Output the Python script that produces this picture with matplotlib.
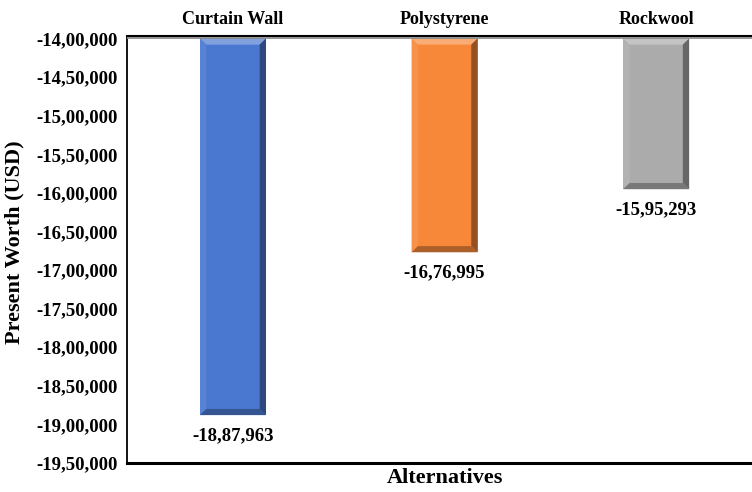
import matplotlib
matplotlib.use("Agg")
import matplotlib.pyplot as plt
from matplotlib.patches import Polygon
from matplotlib.colors import to_rgb
from matplotlib.ticker import FuncFormatter
import numpy as np

# Present worth of each cladding alternative (USD)
categories = ["Curtain Wall", "Polystyrene", "Rockwool"]
present_worth = [-1887963, -1676995, -1595293]
bar_colors = ["#4A78D0", "#F7883A", "#ABABAB"]
baseline = -1400000
y_ticks = list(range(-1950000, -1399999, 50000))

plt.rcParams["font.family"] = ["Liberation Serif", "DejaVu Serif"]
plt.rcParams["font.weight"] = "bold"


def indian_format(v, _pos=None):
    v = int(round(v))
    sign = "-" if v < 0 else ""
    s = str(abs(v))
    if len(s) > 3:
        head, tail = s[:-3], s[-3:]
        groups = []
        while len(head) > 2:
            groups.insert(0, head[-2:])
            head = head[:-2]
        if head:
            groups.insert(0, head)
        s = ",".join(groups + [tail])
    return sign + s


def shade(color, amount):
    r, g, b = to_rgb(color)
    if amount >= 0:
        return (r + (1 - r) * amount, g + (1 - g) * amount, b + (1 - b) * amount)
    a = -amount
    return (r * (1 - a), g * (1 - a), b * (1 - a))


fig = plt.figure(figsize=(7.52, 4.92), dpi=100)
ax = fig.add_axes([127 / 752, 29 / 492, 1 - 127 / 752, 427 / 492])

x = np.arange(len(categories))
width = 0.312
heights = [v - baseline for v in present_worth]
bars = ax.bar(x, heights, width=width, bottom=baseline, color=bar_colors,
              edgecolor="none", zorder=2)

ax.set_xlim(-0.501, 2.453)
ax.set_ylim(-1950000, -1396800)

# bevelled edges on each bar
bx = 0.03
by = 8000
for xi, v, c in zip(x, present_worth, bar_colors):
    l, r = xi - width / 2, xi + width / 2
    t, b = baseline, v
    faces = [
        ([(l, t), (r, t), (r - bx, t - by), (l + bx, t - by)], shade(c, 0.3)),
        ([(l, t), (l + bx, t - by), (l + bx, b + by), (l, b)], shade(c, 0.08)),
        ([(r, t), (r, b), (r - bx, b + by), (r - bx, t - by)], shade(c, -0.4)),
        ([(l, b), (l + bx, b + by), (r - bx, b + by), (r, b)], shade(c, -0.3)),
    ]
    for pts, fc in faces:
        ax.add_patch(Polygon(pts, closed=True, facecolor=fc, edgecolor="none",
                             zorder=3))
    ax.annotate(indian_format(v), (xi, v), xytext=(0, -15),
                textcoords="offset points", ha="center", va="center",
                fontsize=13.5, fontweight="bold", color="black")

# axis line at the baseline, just below the top border
ax.axhline(baseline, color="#8C8C8C", lw=1.3, zorder=4)

ax.set_yticks(y_ticks)
ax.yaxis.set_major_formatter(FuncFormatter(indian_format))
ax.tick_params(axis="y", length=0, pad=6.5, labelsize=13.5)
ax.set_xticks(x)
ax.set_xticklabels(categories)
ax.tick_params(axis="x", length=0, top=False, bottom=False,
               labeltop=True, labelbottom=False, labelsize=13, pad=6)

for side in ["left", "bottom", "top"]:
    ax.spines[side].set_color("black")
ax.spines["left"].set_linewidth(1.3)
ax.spines["bottom"].set_linewidth(2.2)
ax.spines["top"].set_linewidth(1.5)
ax.spines["right"].set_visible(False)

fig.text(14 / 752, 1 - 242 / 492, "Present Worth (USD)", rotation=90,
         ha="center", va="center", fontsize=16, fontweight="bold")
fig.text(445 / 752, 1 - 478 / 492, "Alternatives", ha="center", va="center",
         fontsize=16, fontweight="bold")

fig.savefig("out.png", dpi=100)
